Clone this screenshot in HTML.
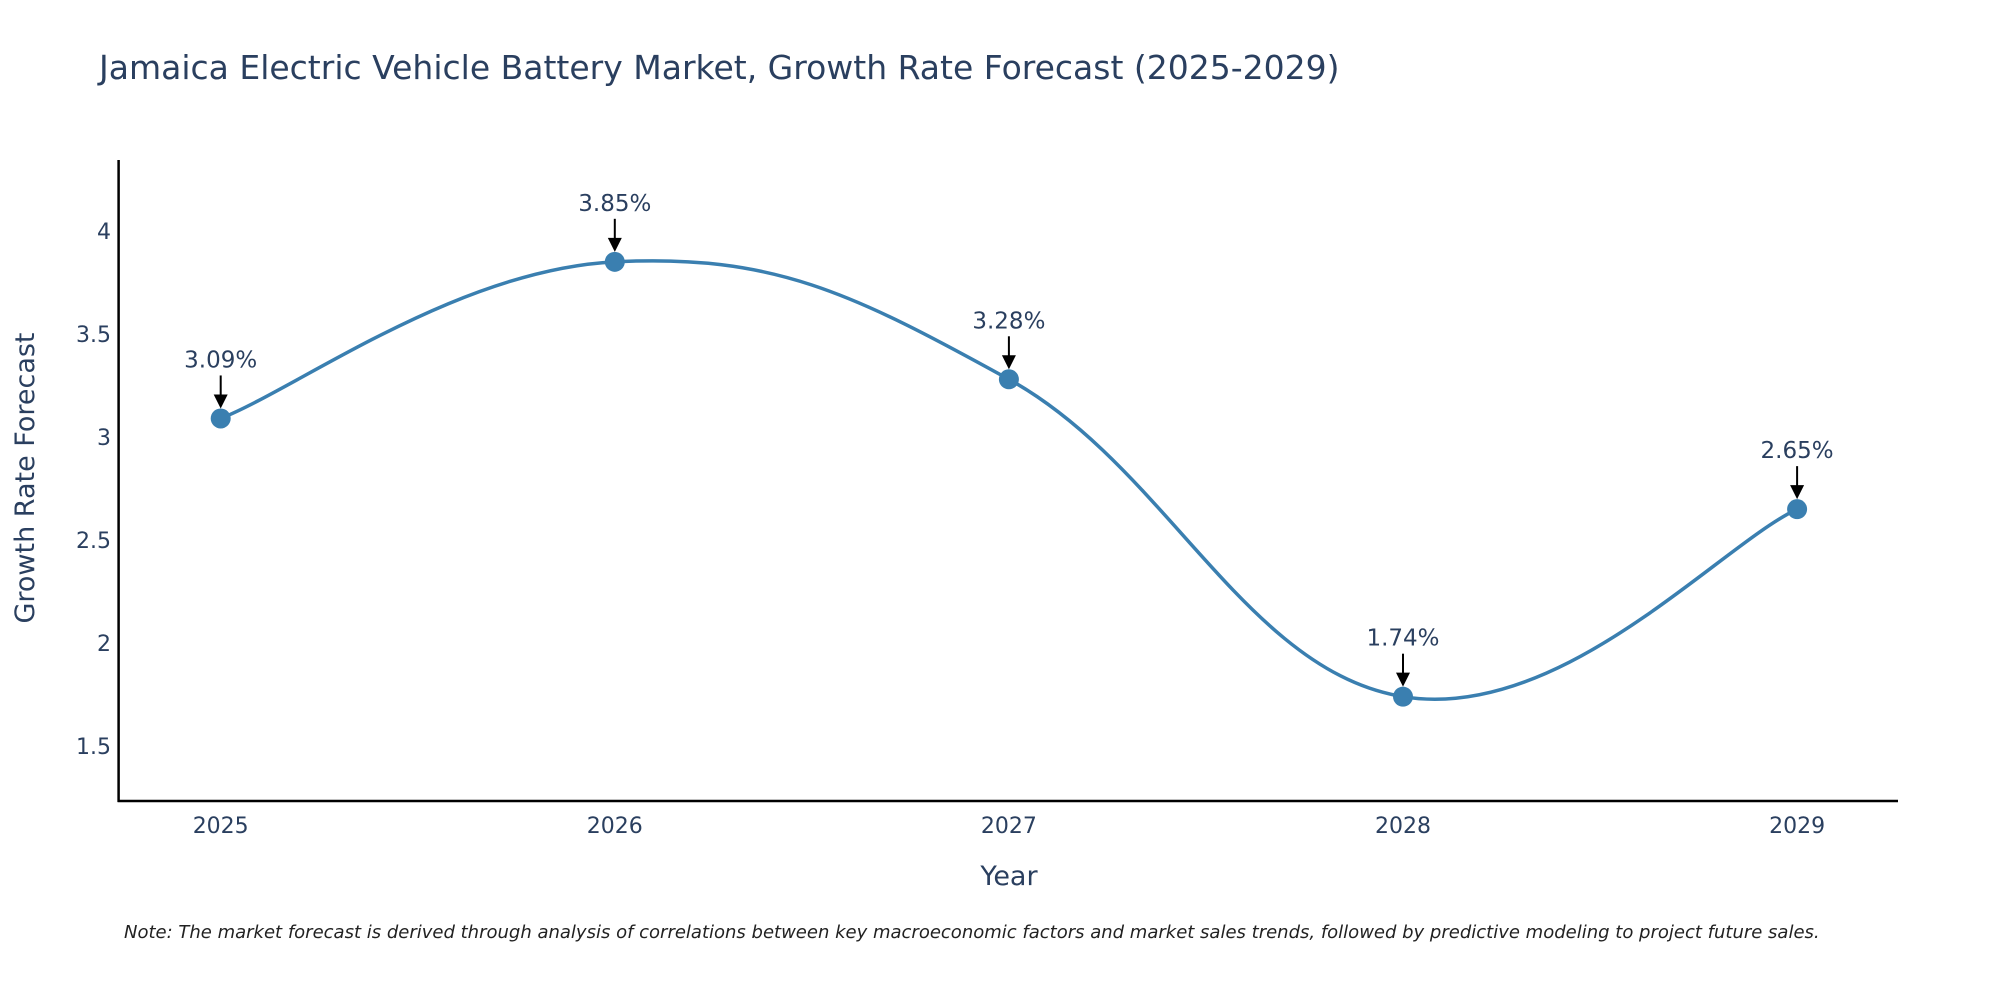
<!DOCTYPE html>
<html><head><meta charset="utf-8"><style>
body{margin:0;background:#fff;overflow:hidden}
svg{display:block;font-family:"DejaVu Sans","Liberation Sans",sans-serif}
</style></head><body>
<svg id="chart" width="2000" height="1000" viewBox="0 0 2000 1000">
<text x="99" y="79" font-size="33" fill="#2a3f5f">Jamaica Electric Vehicle Battery Market, Growth Rate Forecast (2025-2029)</text>
<g id="axes"></g>
<g id="plot"></g>
<text x="1009" y="885" font-size="27" fill="#2a3f5f" text-anchor="middle">Year</text>
<text transform="translate(34,478) rotate(-90)" font-size="27" fill="#2a3f5f" text-anchor="middle">Growth Rate Forecast</text>
<text x="124" y="938" font-size="18" font-style="italic" fill="#222">Note: The market forecast is derived through analysis of correlations between key macroeconomic factors and market sales trends, followed by predictive modeling to project future sales.</text>
</svg>
<script>
const years = ["2025","2026","2027","2028","2029"];
const growth = [3.09, 3.85, 3.28, 1.74, 2.65];
const yTicks = [1.5, 2, 2.5, 3, 3.5, 4];
const ns = "http://www.w3.org/2000/svg";
const L=118.6, R=1898, B=801, T=160;
function xs(i){return 220.7 + i*394.1;}
function ys(v){return 230.9 + (4 - v)*206.1;}
function mk(tag, attrs, parent){const e=document.createElementNS(ns,tag);for(const k in attrs)e.setAttribute(k,attrs[k]);parent.appendChild(e);return e;}
const axes=document.getElementById('axes'), plot=document.getElementById('plot');
let e=mk('line',{x1:L,y1:T,x2:L,y2:B+1,stroke:'#000','stroke-width':2.5},axes);


e=mk('line',{x1:L-1,y1:B,x2:R,y2:B,stroke:'#000','stroke-width':2.5},axes);


yTicks.forEach(t=>{
  const tx=mk('text',{x:111,y:ys(t)+8,'font-size':22,fill:'#2a3f5f','text-anchor':'end'},axes);
  tx.textContent=t;
  
  
});
years.forEach((y,i)=>{
  const tx=mk('text',{x:xs(i),y:833,'font-size':22,fill:'#2a3f5f','text-anchor':'middle'},axes);
  tx.textContent=y;
  
  
});
const pts=growth.map((v,i)=>[xs(i),ys(v)]);
let d=`M${pts[0][0]},${pts[0][1]}`;
const s=1/6*1.2;
for(let i=0;i<pts.length-1;i++){
  const p0=pts[Math.max(0,i-1)],p1=pts[i],p2=pts[i+1],p3=pts[Math.min(pts.length-1,i+2)];
  const c1=[p1[0]+(p2[0]-p0[0])*s,p1[1]+(p2[1]-p0[1])*s];
  const c2=[p2[0]-(p3[0]-p1[0])*s,p2[1]-(p3[1]-p1[1])*s];
  d+=` C${c1[0]},${c1[1]} ${c2[0]},${c2[1]} ${p2[0]},${p2[1]}`;
}
e=mk('path',{d:d,fill:'none',stroke:'#3a7fb0','stroke-width':3.5},plot);


growth.forEach((v,i)=>{
  const cx=xs(i),cy=ys(v);
  const c=mk('circle',{cx:cx,cy:cy,r:10,fill:'#3a7fb0'},plot);
  
  
  const a=mk('line',{x1:cx,y1:cy-43,x2:cx,y2:cy-22,stroke:'#000','stroke-width':2},plot);
  
  
  const h=mk('path',{d:`M${cx-7},${cy-24} L${cx+7},${cy-24} L${cx},${cy-10} Z`,fill:'#000'},plot);
  
  
  const t=mk('text',{x:cx,y:cy-51,'font-size':23,fill:'#2a3f5f','text-anchor':'middle'},plot);
  t.textContent=v.toFixed(2)+'%';
  
  
});
</script>
</body></html>
